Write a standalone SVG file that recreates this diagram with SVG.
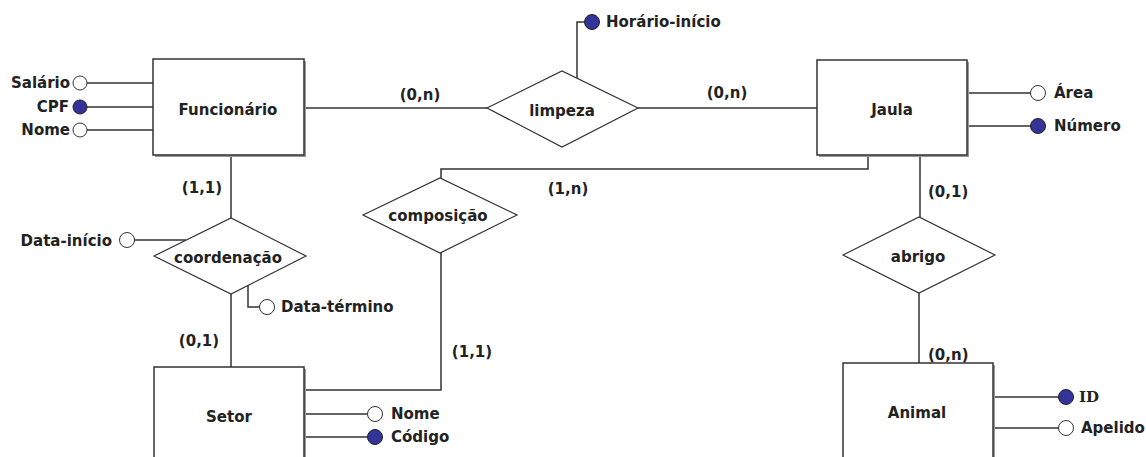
<svg xmlns="http://www.w3.org/2000/svg" width="1146" height="457" viewBox="0 0 1146 457">
<style>
text{font-family:"DejaVu Sans","Liberation Sans",sans-serif;font-weight:bold;font-size:15px;fill:#222}
.c{text-anchor:middle}
.e{text-anchor:end}
.ent{fill:#fff;stroke:#333;stroke-width:1.5}
.shd{fill:#9a9a9a}
.rel{fill:#fff;stroke:#333;stroke-width:1.2}
.ln{fill:none;stroke:#333;stroke-width:1.5}
.ao{fill:#fff;stroke:#333;stroke-width:1}
.af{fill:#33339a;stroke:#222;stroke-width:1}
.serif{font-family:"DejaVu Serif","Liberation Serif",serif}
</style>
<rect width="1146" height="457" fill="#fff"/>
<g id="connectors">
<path class="ln" d="M304,108 H487"/>
<path class="ln" d="M638,108 H817"/>
<path class="ln" d="M577,78 V22 H584"/>
<path class="ln" d="M868,155 V169 H441 V178"/>
<path class="ln" d="M441,252 V390 H304"/>
<path class="ln" d="M231,155 V218"/>
<path class="ln" d="M231,294 V367"/>
<path class="ln" d="M134,240 H186"/>
<path class="ln" d="M248,285 V307 H260"/>
<path class="ln" d="M920,155 V217"/>
<path class="ln" d="M919,293 V363"/>
<path class="ln" d="M87,83 H153 M87,107 H153 M87,130 H153"/>
<path class="ln" d="M967,93 H1031 M967,126 H1031"/>
<path class="ln" d="M304,414 H368 M304,437 H368"/>
<path class="ln" d="M993,397 H1059 M993,428 H1059"/>
</g>
<g id="funcionario">
<rect class="shd" x="155" y="61" width="151" height="96"/>
<rect class="ent" x="153" y="59" width="151" height="96"/>
<text class="c" x="228" y="115">Funcionário</text>
</g>
<g id="attr-salario"><circle class="ao" cx="80" cy="83" r="7"/><text class="e" x="70" y="88">Salário</text></g>
<g id="attr-cpf"><circle class="af" cx="80" cy="107" r="7"/><text class="e" x="69" y="112">CPF</text></g>
<g id="attr-nome-f"><circle class="ao" cx="80" cy="130" r="7"/><text class="e" x="70" y="135">Nome</text></g>
<g id="limpeza">
<polygon class="rel" points="487,108 562,71 638,108 562,147"/>
<text class="c" x="562" y="116">limpeza</text>
</g>
<g id="attr-horario"><circle class="af" cx="592" cy="22" r="7.5"/><text x="606" y="27">Horário-início</text></g>
<g id="jaula">
<rect class="shd" x="819" y="62" width="150" height="95"/>
<rect class="ent" x="817" y="60" width="150" height="95"/>
<text class="c" x="892" y="115">Jaula</text>
</g>
<g id="attr-area"><circle class="ao" cx="1038" cy="93" r="7.5"/><text x="1054" y="98">Área</text></g>
<g id="attr-numero"><circle class="af" cx="1038" cy="126" r="7.5"/><text x="1054" y="131">Número</text></g>
<g id="composicao">
<polygon class="rel" points="363,215 440,178 517,215 440,253"/>
<text class="c" x="438" y="221">composição</text>
</g>
<g id="coordenacao">
<polygon class="rel" points="154,256 231,218 306,256 231,294"/>
<text class="c" x="228" y="263">coordenação</text>
</g>
<g id="attr-data-inicio"><circle class="ao" cx="127" cy="240" r="7.5"/><text class="e" x="112" y="246">Data-início</text></g>
<g id="attr-data-termino"><circle class="ao" cx="267" cy="307" r="7.5"/><text x="281" y="312">Data-término</text></g>
<g id="setor">
<rect class="shd" x="156" y="369" width="150" height="100"/>
<rect class="ent" x="154" y="367" width="150" height="100"/>
<text class="c" x="229" y="422">Setor</text>
</g>
<g id="attr-nome-s"><circle class="ao" cx="375" cy="414" r="7.5"/><text x="391" y="419">Nome</text></g>
<g id="attr-codigo"><circle class="af" cx="375" cy="437" r="7.5"/><text x="391" y="442">Código</text></g>
<g id="abrigo">
<polygon class="rel" points="843,255 919,217 995,255 919,293"/>
<text class="c" x="918" y="262">abrigo</text>
</g>
<g id="animal">
<rect class="shd" x="845" y="365" width="150" height="100"/>
<rect class="ent" x="843" y="363" width="150" height="100"/>
<text class="c" x="917" y="418">Animal</text>
</g>
<g id="attr-id"><circle class="af" cx="1066" cy="397" r="7.5"/><text class="serif" x="1079" y="402">ID</text></g>
<g id="attr-apelido"><circle class="ao" cx="1066" cy="428" r="7.5"/><text x="1081" y="433">Apelido</text></g>
<g id="cardinalities">
<text class="c" x="420" y="100">(0,n)</text>
<text class="c" x="727" y="98">(0,n)</text>
<text x="928" y="197">(0,1)</text>
<text class="c" x="568" y="194">(1,n)</text>
<text class="c" x="202" y="193">(1,1)</text>
<text class="c" x="199" y="346">(0,1)</text>
<text class="c" x="472" y="357">(1,1)</text>
<text x="928" y="360">(0,n)</text>
</g>
</svg>
